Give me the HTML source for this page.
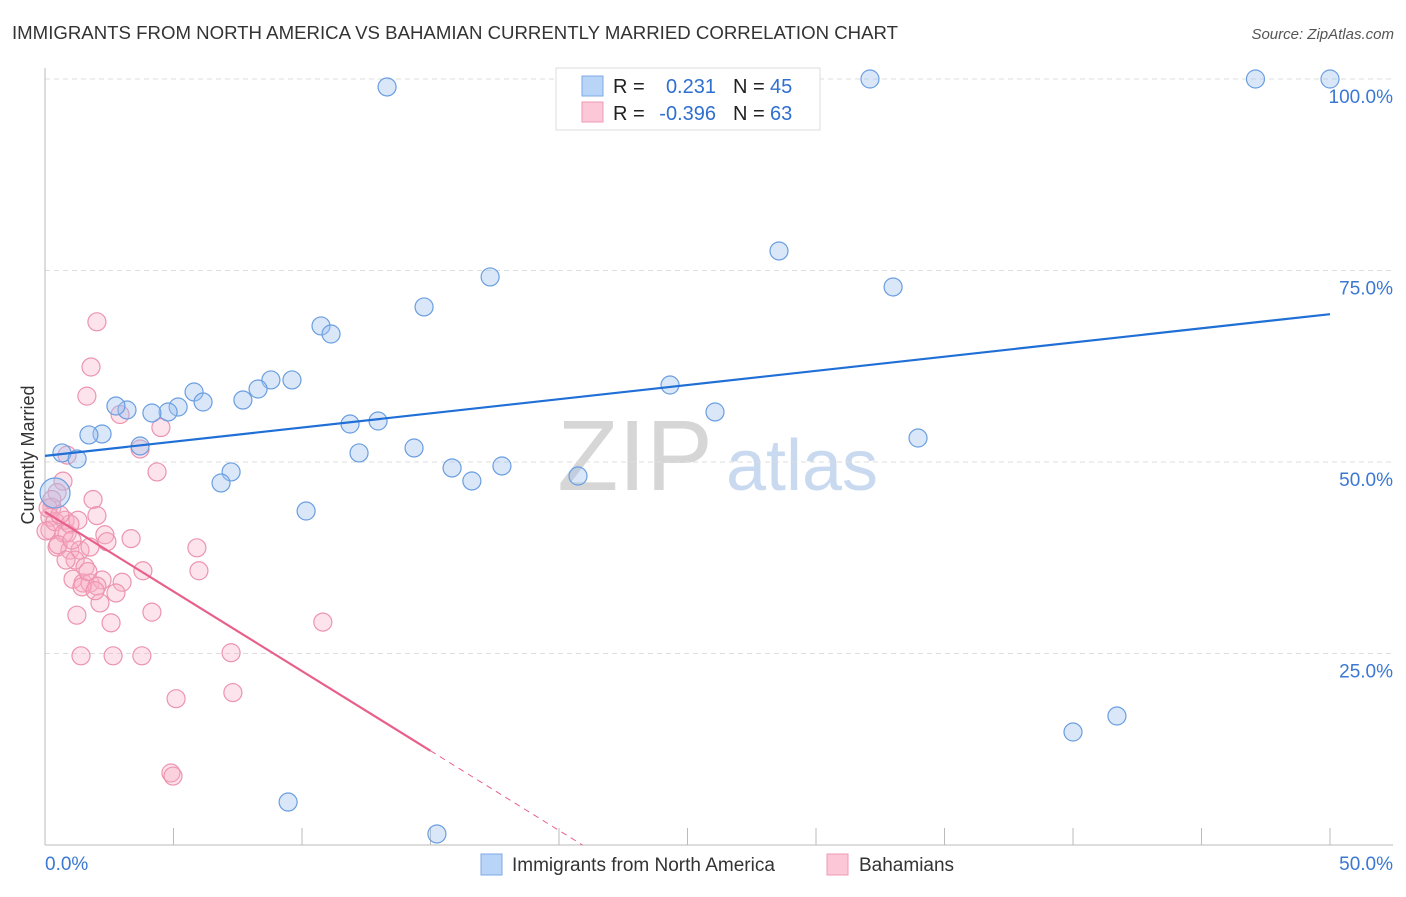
<!DOCTYPE html>
<html><head><meta charset="utf-8"><style>
body{margin:0;background:#fff;font-family:"Liberation Sans",sans-serif;}
svg text{font-family:"Liberation Sans",sans-serif;}
</style></head><body>
<svg id="chart" width="1406" height="892">
<text x="12" y="39" font-size="18.5" fill="#333" textLength="886" lengthAdjust="spacingAndGlyphs">IMMIGRANTS FROM NORTH AMERICA VS BAHAMIAN CURRENTLY MARRIED CORRELATION CHART</text>
<text x="1394" y="39" font-size="15" fill="#555" font-style="italic" text-anchor="end">Source: ZipAtlas.com</text>
<g>
<text x="635" y="490" font-size="100" font-family="Liberation Serif" fill="#d6d6d6" text-anchor="middle">ZIP</text>
<text x="802" y="490" font-size="72" fill="#c9daf0" text-anchor="middle">atlas</text>
</g>
<g id="grid"></g>
<g id="axes"></g>
<g id="pts"></g>
<g id="lines"></g>
<text x="34" y="455" font-size="18" fill="#333" text-anchor="middle" transform="rotate(-90 34 455)">Currently Married</text>
<g>
<rect x="556" y="68" width="264" height="62" fill="#fff" stroke="#ddd"/>
<rect x="582" y="76" width="21" height="20" fill="#b8d4f6" stroke="#7eaae6"/>
<rect x="582" y="102" width="21" height="20" fill="#fcc8d8" stroke="#ee9ab4"/>
<text x="613" y="93" font-size="20" fill="#222">R =</text>
<text x="716" y="93" font-size="20" fill="#2f6fd0" text-anchor="end">0.231</text>
<text x="733" y="93" font-size="20" fill="#222">N =</text>
<text x="770" y="93" font-size="20" fill="#2f6fd0">45</text>
<text x="613" y="120" font-size="20" fill="#222">R =</text>
<text x="716" y="120" font-size="20" fill="#2f6fd0" text-anchor="end">-0.396</text>
<text x="733" y="120" font-size="20" fill="#222">N =</text>
<text x="770" y="120" font-size="20" fill="#2f6fd0">63</text>
</g>
<g>
<rect x="481" y="854" width="21" height="21" fill="#b8d4f6" stroke="#7eaae6"/>
<text x="512" y="871" font-size="19" fill="#333">Immigrants from North America</text>
<rect x="827" y="854" width="21" height="21" fill="#fcc8d8" stroke="#ee9ab4"/>
<text x="859" y="871" font-size="19" fill="#333">Bahamians</text>
</g>
</svg>
<script>
const blueX=[13.31,32.1,47.1,50.0,28.56,17.32,33.0,14.75,10.74,11.13,24.32,9.61,8.79,8.29,7.70,5.80,6.15,5.18,4.79,4.16,3.19,2.76,26.07,3.70,11.87,12.96,14.36,12.22,33.97,2.22,1.71,0.66,1.25,7.24,6.85,15.84,16.61,17.78,20.74,10.16,0.39,40.0,41.71,9.46,15.25];
const blueY=[98.96,100,100,100,77.55,74.16,72.85,70.24,67.76,66.71,60.05,60.71,60.71,59.53,58.09,59.14,57.83,57.18,56.53,56.40,56.79,57.31,56.53,52.09,54.96,55.35,51.83,51.18,53.13,53.66,53.53,51.18,50.39,48.70,47.26,49.22,47.52,49.48,48.17,43.60,45.95,14.75,16.84,5.61,1.44];
const pinkX=[2.02,1.79,1.63,2.92,4.51,3.70,0.86,4.36,0.70,0.47,1.87,2.02,0.27,0.19,0.78,0.19,0.86,1.28,2.33,2.41,3.35,0.47,0.97,1.36,1.75,1.17,1.56,5.91,5.99,3.81,1.09,1.48,1.75,2.22,3.00,2.02,1.44,2.76,2.14,4.16,1.24,2.57,10.81,1.40,2.65,3.77,7.24,5.10,7.31,4.90,4.98,0.12,0.04,0.39,0.74,0.97,0.27,0.51,0.82,1.05,0.58,1.67,1.95];
const pinkY=[68.3,62.4,58.6,56.2,54.5,51.7,50.9,48.7,47.5,46.0,45.1,43.0,44.1,42.8,42.4,41.1,40.7,42.4,40.5,39.6,40.0,38.9,38.5,38.5,38.9,37.2,36.3,38.8,35.8,35.8,34.7,34.2,34.2,34.6,34.3,33.8,33.7,32.9,31.6,30.4,30.0,29.0,29.1,24.7,24.7,24.7,25.1,19.1,19.9,9.4,9.0,44.0,41.0,42.2,40.7,41.9,45.1,39.2,37.2,39.8,43.1,35.7,33.2];
const blueTrend=[50.8,69.3];
const pinkTrend=[43.5,12.3,15];
const yTicks=[25,50,75,100];
const yTickLabels=["25.0%","50.0%","75.0%","100.0%"];
const xTicks=[0,5,10,15,20,25,30,35,40,45,50];
const xTickLabels=["0.0%","50.0%"];
const X=v=>45+v/50*1285, Y=v=>845-v/100*766;
const NS="http://www.w3.org/2000/svg";
function mk(t,a,p){const e=document.createElementNS(NS,t);for(const k in a)e.setAttribute(k,a[k]);p.appendChild(e);return e;}
const grid=document.getElementById('grid'),axes=document.getElementById('axes'),pts=document.getElementById('pts'),lines=document.getElementById('lines');
yTicks.forEach((t,i)=>{
 const l=mk('line',{x1:45,x2:1393,y1:Y(t),y2:Y(t),stroke:'#ddd','stroke-dasharray':'5,4'},grid);
 
 
 const tx=mk('text',{x:1393,y:Y(t)+24,'font-size':19,fill:'#3a78d4','text-anchor':'end'},axes);
 tx.textContent=yTickLabels[i];
 
 
});
const ya=mk('line',{x1:45,x2:45,y1:68,y2:845,stroke:'#bbb'},axes);


const xa=mk('line',{x1:45,x2:1393,y1:845,y2:845,stroke:'#bbb'},axes);


xTicks.forEach(t=>{
 const l=mk('line',{x1:X(t),x2:X(t),y1:828,y2:845,stroke:'#bbb'},axes);
 
 
});
const xl0=mk('text',{x:45,y:870,'font-size':19,fill:'#3a78d4'},axes);xl0.textContent=xTickLabels[0];


const xl1=mk('text',{x:1393,y:870,'font-size':19,fill:'#3a78d4','text-anchor':'end'},axes);xl1.textContent=xTickLabels[1];


pinkX.forEach((x,i)=>{
 const c=mk('circle',{cx:X(x),cy:Y(pinkY[i]),r:9,fill:'rgba(248,175,198,0.35)',stroke:'#ec94b0','stroke-width':1.2},pts);
 
 
});
blueX.forEach((x,i)=>{
 const big=(i===40);
 const c=mk('circle',{cx:X(x),cy:Y(blueY[i]),r:big?15:9,fill:'rgba(160,196,240,0.4)',stroke:'#6a9ee0','stroke-width':1.2},pts);
 
 
});
const bl=mk('line',{x1:X(0),y1:Y(blueTrend[0]),x2:X(50),y2:Y(blueTrend[1]),stroke:'#1f6fd6','stroke-width':2.2},lines);


const pl=mk('line',{x1:X(0),y1:Y(pinkTrend[0]),x2:X(pinkTrend[2]),y2:Y(pinkTrend[1]),stroke:'#e8608a','stroke-width':2.2},lines);


const slope=(pinkTrend[1]-pinkTrend[0])/pinkTrend[2];
const xz=-pinkTrend[0]/slope;
const pd=mk('line',{x1:X(pinkTrend[2]),y1:Y(pinkTrend[1]),x2:X(xz),y2:Y(0),stroke:'#e8608a','stroke-width':1,'stroke-dasharray':'6,5'},lines);


</script>
</body></html>
